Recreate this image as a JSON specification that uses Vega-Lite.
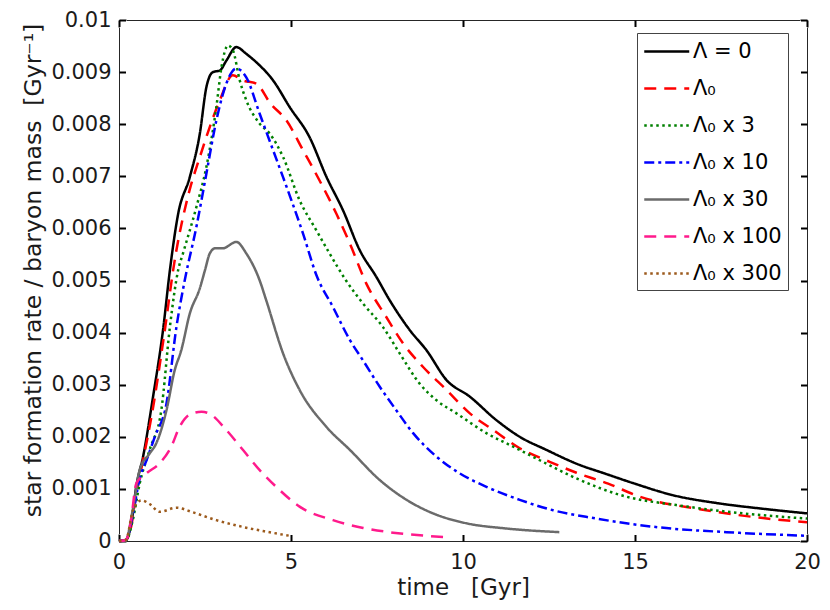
{
  "$schema": "https://vega.github.io/schema/vega-lite/v6.json",
  "description": "Star formation rate per baryon mass against time for several values of the cosmological constant",
  "width": 688,
  "height": 521,
  "autosize": {"type": "none"},
  "padding": {"left": 119, "top": 20, "right": 23, "bottom": 69},
  "background": "white",
  "config": {
    "font": "DejaVu Sans",
    "view": {"stroke": "#262626", "strokeWidth": 1},
    "axis": {"grid": false, "labelFontSize": 21, "titleFontSize": 23, "titleFontWeight": "normal", "labelFlush": false, "labelColor": "#1a1a1a", "titleColor": "#1a1a1a"}
  },
  "data": {"values": [
      {"s": "Λ = 0", "t": 0, "v": 0},
      {"s": "Λ = 0", "t": 0.2, "v": 0.00002},
      {"s": "Λ = 0", "t": 0.36, "v": 0.00035},
      {"s": "Λ = 0", "t": 0.5, "v": 0.00104},
      {"s": "Λ = 0", "t": 0.7, "v": 0.00162},
      {"s": "Λ = 0", "t": 0.99, "v": 0.00277},
      {"s": "Λ = 0", "t": 1.28, "v": 0.00405},
      {"s": "Λ = 0", "t": 1.48, "v": 0.0052},
      {"s": "Λ = 0", "t": 1.72, "v": 0.00628},
      {"s": "Λ = 0", "t": 2.06, "v": 0.00699},
      {"s": "Λ = 0", "t": 2.35, "v": 0.00782},
      {"s": "Λ = 0", "t": 2.54, "v": 0.00871},
      {"s": "Λ = 0", "t": 2.73, "v": 0.009},
      {"s": "Λ = 0", "t": 2.93, "v": 0.00903},
      {"s": "Λ = 0", "t": 3.12, "v": 0.00922},
      {"s": "Λ = 0", "t": 3.41, "v": 0.00948},
      {"s": "Λ = 0", "t": 3.7, "v": 0.00935},
      {"s": "Λ = 0", "t": 3.99, "v": 0.00919},
      {"s": "Λ = 0", "t": 4.48, "v": 0.00884},
      {"s": "Λ = 0", "t": 4.96, "v": 0.00833},
      {"s": "Λ = 0", "t": 5.54, "v": 0.00775},
      {"s": "Λ = 0", "t": 6.03, "v": 0.00699},
      {"s": "Λ = 0", "t": 6.51, "v": 0.00635},
      {"s": "Λ = 0", "t": 7.0, "v": 0.00558},
      {"s": "Λ = 0", "t": 7.48, "v": 0.00507},
      {"s": "Λ = 0", "t": 7.87, "v": 0.00462},
      {"s": "Λ = 0", "t": 8.45, "v": 0.00405},
      {"s": "Λ = 0", "t": 8.94, "v": 0.00366},
      {"s": "Λ = 0", "t": 9.52, "v": 0.00309},
      {"s": "Λ = 0", "t": 10.2, "v": 0.00277},
      {"s": "Λ = 0", "t": 10.97, "v": 0.00232},
      {"s": "Λ = 0", "t": 11.65, "v": 0.002},
      {"s": "Λ = 0", "t": 12.42, "v": 0.00175},
      {"s": "Λ = 0", "t": 13.39, "v": 0.00146},
      {"s": "Λ = 0", "t": 14.1, "v": 0.0013},
      {"s": "Λ = 0", "t": 14.95, "v": 0.00111},
      {"s": "Λ = 0", "t": 16.1, "v": 0.00088},
      {"s": "Λ = 0", "t": 17.46, "v": 0.00072},
      {"s": "Λ = 0", "t": 18.7, "v": 0.00062},
      {"s": "Λ = 0", "t": 20, "v": 0.00053},

      {"s": "Λ₀", "t": 0, "v": 0},
      {"s": "Λ₀", "t": 0.2, "v": 0.00002},
      {"s": "Λ₀", "t": 0.36, "v": 0.0003},
      {"s": "Λ₀", "t": 0.5, "v": 0.0009},
      {"s": "Λ₀", "t": 0.7, "v": 0.00155},
      {"s": "Λ₀", "t": 1.0, "v": 0.0026},
      {"s": "Λ₀", "t": 1.3, "v": 0.0039},
      {"s": "Λ₀", "t": 1.62, "v": 0.00539},
      {"s": "Λ₀", "t": 2.05, "v": 0.00673},
      {"s": "Λ₀", "t": 2.35, "v": 0.00737},
      {"s": "Λ₀", "t": 2.64, "v": 0.00795},
      {"s": "Λ₀", "t": 2.93, "v": 0.00846},
      {"s": "Λ₀", "t": 3.31, "v": 0.00894},
      {"s": "Λ₀", "t": 3.6, "v": 0.00884},
      {"s": "Λ₀", "t": 3.99, "v": 0.00878},
      {"s": "Λ₀", "t": 4.4, "v": 0.0084},
      {"s": "Λ₀", "t": 4.87, "v": 0.00807},
      {"s": "Λ₀", "t": 5.35, "v": 0.0075},
      {"s": "Λ₀", "t": 5.83, "v": 0.00692},
      {"s": "Λ₀", "t": 6.32, "v": 0.00628},
      {"s": "Λ₀", "t": 6.71, "v": 0.00571},
      {"s": "Λ₀", "t": 7.19, "v": 0.00494},
      {"s": "Λ₀", "t": 7.77, "v": 0.0043},
      {"s": "Λ₀", "t": 8.26, "v": 0.00379},
      {"s": "Λ₀", "t": 8.84, "v": 0.00334},
      {"s": "Λ₀", "t": 9.52, "v": 0.0029},
      {"s": "Λ₀", "t": 10.2, "v": 0.00245},
      {"s": "Λ₀", "t": 10.88, "v": 0.00213},
      {"s": "Λ₀", "t": 11.65, "v": 0.00178},
      {"s": "Λ₀", "t": 12.52, "v": 0.00152},
      {"s": "Λ₀", "t": 13.3, "v": 0.00131},
      {"s": "Λ₀", "t": 14.22, "v": 0.0011},
      {"s": "Λ₀", "t": 15.14, "v": 0.00085},
      {"s": "Λ₀", "t": 16.88, "v": 0.00061},
      {"s": "Λ₀", "t": 18.72, "v": 0.00044},
      {"s": "Λ₀", "t": 20, "v": 0.00036},

      {"s": "Λ₀ x 3", "t": 0, "v": 0},
      {"s": "Λ₀ x 3", "t": 0.2, "v": 0.00001},
      {"s": "Λ₀ x 3", "t": 0.4, "v": 0.0004},
      {"s": "Λ₀ x 3", "t": 0.6, "v": 0.0011},
      {"s": "Λ₀ x 3", "t": 0.89, "v": 0.00175},
      {"s": "Λ₀ x 3", "t": 1.23, "v": 0.00251},
      {"s": "Λ₀ x 3", "t": 1.48, "v": 0.00411},
      {"s": "Λ₀ x 3", "t": 1.72, "v": 0.0052},
      {"s": "Λ₀ x 3", "t": 1.86, "v": 0.00552},
      {"s": "Λ₀ x 3", "t": 2.25, "v": 0.00641},
      {"s": "Λ₀ x 3", "t": 2.54, "v": 0.00718},
      {"s": "Λ₀ x 3", "t": 2.83, "v": 0.00833},
      {"s": "Λ₀ x 3", "t": 2.98, "v": 0.0091},
      {"s": "Λ₀ x 3", "t": 3.17, "v": 0.00951},
      {"s": "Λ₀ x 3", "t": 3.31, "v": 0.00942},
      {"s": "Λ₀ x 3", "t": 3.51, "v": 0.00884},
      {"s": "Λ₀ x 3", "t": 3.7, "v": 0.00846},
      {"s": "Λ₀ x 3", "t": 4.09, "v": 0.00801},
      {"s": "Λ₀ x 3", "t": 4.38, "v": 0.00782},
      {"s": "Λ₀ x 3", "t": 4.77, "v": 0.00737},
      {"s": "Λ₀ x 3", "t": 5.25, "v": 0.00654},
      {"s": "Λ₀ x 3", "t": 5.74, "v": 0.00596},
      {"s": "Λ₀ x 3", "t": 6.12, "v": 0.00552},
      {"s": "Λ₀ x 3", "t": 6.6, "v": 0.005},
      {"s": "Λ₀ x 3", "t": 7.09, "v": 0.00456},
      {"s": "Λ₀ x 3", "t": 7.67, "v": 0.00411},
      {"s": "Λ₀ x 3", "t": 8.16, "v": 0.0036},
      {"s": "Λ₀ x 3", "t": 8.74, "v": 0.00302},
      {"s": "Λ₀ x 3", "t": 9.23, "v": 0.0027},
      {"s": "Λ₀ x 3", "t": 9.81, "v": 0.00245},
      {"s": "Λ₀ x 3", "t": 10.68, "v": 0.00207},
      {"s": "Λ₀ x 3", "t": 11.46, "v": 0.00181},
      {"s": "Λ₀ x 3", "t": 12.23, "v": 0.00155},
      {"s": "Λ₀ x 3", "t": 13.3, "v": 0.0012},
      {"s": "Λ₀ x 3", "t": 14.75, "v": 0.00085},
      {"s": "Λ₀ x 3", "t": 16.2, "v": 0.00069},
      {"s": "Λ₀ x 3", "t": 17.85, "v": 0.00055},
      {"s": "Λ₀ x 3", "t": 20, "v": 0.00043},

      {"s": "Λ₀ x 10", "t": 0, "v": 0},
      {"s": "Λ₀ x 10", "t": 0.2, "v": 0.00002},
      {"s": "Λ₀ x 10", "t": 0.4, "v": 0.0005},
      {"s": "Λ₀ x 10", "t": 0.6, "v": 0.0012},
      {"s": "Λ₀ x 10", "t": 0.8, "v": 0.00155},
      {"s": "Λ₀ x 10", "t": 1.04, "v": 0.002},
      {"s": "Λ₀ x 10", "t": 1.38, "v": 0.00264},
      {"s": "Λ₀ x 10", "t": 1.67, "v": 0.00411},
      {"s": "Λ₀ x 10", "t": 1.91, "v": 0.005},
      {"s": "Λ₀ x 10", "t": 2.25, "v": 0.00603},
      {"s": "Λ₀ x 10", "t": 2.54, "v": 0.00705},
      {"s": "Λ₀ x 10", "t": 2.83, "v": 0.00807},
      {"s": "Λ₀ x 10", "t": 3.12, "v": 0.00878},
      {"s": "Λ₀ x 10", "t": 3.41, "v": 0.00907},
      {"s": "Λ₀ x 10", "t": 3.7, "v": 0.0089},
      {"s": "Λ₀ x 10", "t": 4.09, "v": 0.0082},
      {"s": "Λ₀ x 10", "t": 4.48, "v": 0.0075},
      {"s": "Λ₀ x 10", "t": 4.87, "v": 0.0068},
      {"s": "Λ₀ x 10", "t": 5.35, "v": 0.0059},
      {"s": "Λ₀ x 10", "t": 5.74, "v": 0.0051},
      {"s": "Λ₀ x 10", "t": 6.22, "v": 0.00449},
      {"s": "Λ₀ x 10", "t": 6.71, "v": 0.00386},
      {"s": "Λ₀ x 10", "t": 7.09, "v": 0.00347},
      {"s": "Λ₀ x 10", "t": 7.58, "v": 0.00296},
      {"s": "Λ₀ x 10", "t": 8.06, "v": 0.00251},
      {"s": "Λ₀ x 10", "t": 8.55, "v": 0.00207},
      {"s": "Λ₀ x 10", "t": 9.23, "v": 0.00162},
      {"s": "Λ₀ x 10", "t": 9.9, "v": 0.0013},
      {"s": "Λ₀ x 10", "t": 10.68, "v": 0.00104},
      {"s": "Λ₀ x 10", "t": 11.65, "v": 0.00079},
      {"s": "Λ₀ x 10", "t": 12.62, "v": 0.00059},
      {"s": "Λ₀ x 10", "t": 13.79, "v": 0.00044},
      {"s": "Λ₀ x 10", "t": 15.72, "v": 0.00026},
      {"s": "Λ₀ x 10", "t": 17.66, "v": 0.00017},
      {"s": "Λ₀ x 10", "t": 20, "v": 0.0001},

      {"s": "Λ₀ x 30", "t": 0, "v": 0},
      {"s": "Λ₀ x 30", "t": 0.2, "v": 0.00002},
      {"s": "Λ₀ x 30", "t": 0.4, "v": 0.0006},
      {"s": "Λ₀ x 30", "t": 0.6, "v": 0.00136},
      {"s": "Λ₀ x 30", "t": 0.89, "v": 0.00168},
      {"s": "Λ₀ x 30", "t": 1.08, "v": 0.00187},
      {"s": "Λ₀ x 30", "t": 1.38, "v": 0.00251},
      {"s": "Λ₀ x 30", "t": 1.62, "v": 0.00328},
      {"s": "Λ₀ x 30", "t": 1.81, "v": 0.00366},
      {"s": "Λ₀ x 30", "t": 2.06, "v": 0.00437},
      {"s": "Λ₀ x 30", "t": 2.35, "v": 0.00485},
      {"s": "Λ₀ x 30", "t": 2.5, "v": 0.0052},
      {"s": "Λ₀ x 30", "t": 2.64, "v": 0.00552},
      {"s": "Λ₀ x 30", "t": 2.8, "v": 0.00562},
      {"s": "Λ₀ x 30", "t": 3.02, "v": 0.00562},
      {"s": "Λ₀ x 30", "t": 3.41, "v": 0.00574},
      {"s": "Λ₀ x 30", "t": 3.7, "v": 0.00552},
      {"s": "Λ₀ x 30", "t": 4.09, "v": 0.005},
      {"s": "Λ₀ x 30", "t": 4.28, "v": 0.00462},
      {"s": "Λ₀ x 30", "t": 4.77, "v": 0.0036},
      {"s": "Λ₀ x 30", "t": 5.25, "v": 0.0029},
      {"s": "Λ₀ x 30", "t": 6.03, "v": 0.00219},
      {"s": "Λ₀ x 30", "t": 6.71, "v": 0.00175},
      {"s": "Λ₀ x 30", "t": 7.58, "v": 0.00117},
      {"s": "Λ₀ x 30", "t": 8.36, "v": 0.00079},
      {"s": "Λ₀ x 30", "t": 9.13, "v": 0.00053},
      {"s": "Λ₀ x 30", "t": 10.1, "v": 0.00034},
      {"s": "Λ₀ x 30", "t": 11.26, "v": 0.00024},
      {"s": "Λ₀ x 30", "t": 12.8, "v": 0.00017},

      {"s": "Λ₀ x 100", "t": 0, "v": 0},
      {"s": "Λ₀ x 100", "t": 0.2, "v": 0.00002},
      {"s": "Λ₀ x 100", "t": 0.35, "v": 0.0004},
      {"s": "Λ₀ x 100", "t": 0.5, "v": 0.0011},
      {"s": "Λ₀ x 100", "t": 0.8, "v": 0.0013},
      {"s": "Λ₀ x 100", "t": 1.18, "v": 0.00149},
      {"s": "Λ₀ x 100", "t": 1.52, "v": 0.00181},
      {"s": "Λ₀ x 100", "t": 1.76, "v": 0.00219},
      {"s": "Λ₀ x 100", "t": 2.06, "v": 0.00243},
      {"s": "Λ₀ x 100", "t": 2.4, "v": 0.00248},
      {"s": "Λ₀ x 100", "t": 2.64, "v": 0.00244},
      {"s": "Λ₀ x 100", "t": 3.12, "v": 0.00213},
      {"s": "Λ₀ x 100", "t": 3.6, "v": 0.00175},
      {"s": "Λ₀ x 100", "t": 4.09, "v": 0.00136},
      {"s": "Λ₀ x 100", "t": 4.57, "v": 0.00104},
      {"s": "Λ₀ x 100", "t": 5.25, "v": 0.00066},
      {"s": "Λ₀ x 100", "t": 6.22, "v": 0.0004},
      {"s": "Λ₀ x 100", "t": 7.1, "v": 0.00025},
      {"s": "Λ₀ x 100", "t": 7.97, "v": 0.00016},
      {"s": "Λ₀ x 100", "t": 8.94, "v": 0.0001},
      {"s": "Λ₀ x 100", "t": 9.62, "v": 0.00007},

      {"s": "Λ₀ x 300", "t": 0, "v": 0},
      {"s": "Λ₀ x 300", "t": 0.2, "v": 0.00002},
      {"s": "Λ₀ x 300", "t": 0.41, "v": 0.0006},
      {"s": "Λ₀ x 300", "t": 0.65, "v": 0.00078},
      {"s": "Λ₀ x 300", "t": 0.89, "v": 0.00071},
      {"s": "Λ₀ x 300", "t": 1.18, "v": 0.00056},
      {"s": "Λ₀ x 300", "t": 1.67, "v": 0.00064},
      {"s": "Λ₀ x 300", "t": 2.15, "v": 0.00055},
      {"s": "Λ₀ x 300", "t": 2.83, "v": 0.0004},
      {"s": "Λ₀ x 300", "t": 3.6, "v": 0.00027},
      {"s": "Λ₀ x 300", "t": 4.28, "v": 0.00018},
      {"s": "Λ₀ x 300", "t": 4.96, "v": 0.0001}
  ]},
  "layer": [
    {
      "mark": {"type": "line", "strokeWidth": 2.5, "interpolate": "monotone"},
      "encoding": {
        "x": {
          "field": "t",
          "type": "quantitative",
          "scale": {"domain": [0, 20], "nice": false},
          "axis": {
            "orient": "bottom",
            "offset": -7,
            "tickSize": 7,
            "tickColor": "#000000",
            "tickWidth": 2,
            "domainColor": "white",
            "values": [0, 5, 10, 15, 20],
            "title": "time\u00a0\u00a0\u00a0[Gyr]",
            "labelPadding": 10,
            "titlePadding": 4
          }
        },
        "y": {
          "field": "v",
          "type": "quantitative",
          "scale": {"domain": [0, 0.01], "nice": false},
          "axis": {
            "orient": "left",
            "offset": -7,
            "tickSize": 7,
            "tickColor": "#000000",
            "tickWidth": 2,
            "domainColor": "white",
            "values": [0, 0.001, 0.002, 0.003, 0.004, 0.005, 0.006, 0.007, 0.008, 0.009, 0.01],
            "labelExpr": "format(datum.value, '.3~f')",
            "title": "star formation rate / baryon mass\u00a0\u00a0[Gyr⁻¹]",
            "titleFontSize": 23.5,
            "titleY": 250,
            "labelPadding": 8,
            "titlePadding": 5
          }
        },
        "color": {
          "field": "s",
          "type": "nominal",
          "scale": {
            "domain": ["Λ = 0", "Λ₀", "Λ₀ x 3", "Λ₀ x 10", "Λ₀ x 30", "Λ₀ x 100", "Λ₀ x 300"],
            "range": ["#000000", "#ff0000", "#008000", "#0000ff", "#6b6b6b", "#ff1a8c", "#9c5a1c"]
          },
          "legend": {
            "title": null, "orient": "none", "legendX": 518, "legendY": 13,
            "symbolType": "M-1,0H3", "symbolSize": 506, "symbolStrokeWidth": 2.5,
            "labelFontSize": 21, "labelColor": "#000000", "labelOffset": 25, "rowPadding": 14, "padding": 6,
            "strokeColor": "#444444", "fillColor": "white"
          }
        },
        "strokeDash": {
          "field": "s",
          "type": "nominal",
          "scale": {
            "domain": ["Λ = 0", "Λ₀", "Λ₀ x 3", "Λ₀ x 10", "Λ₀ x 30", "Λ₀ x 100", "Λ₀ x 300"],
            "range": [[1, 0], [12, 8], [2.5, 3.5], [10, 4, 3, 4], [1, 0], [12, 8], [2.5, 3.5]]
          },
          "legend": {
            "title": null, "orient": "none", "legendX": 518, "legendY": 13,
            "symbolType": "M-1,0H3", "symbolSize": 506, "symbolStrokeWidth": 2.5,
            "labelFontSize": 21, "labelColor": "#000000", "labelOffset": 25, "rowPadding": 14, "padding": 6,
            "strokeColor": "#444444", "fillColor": "white"
          }
        }
      }
    },
    {
      "mark": {"type": "point", "opacity": 0},
      "encoding": {
        "x": {
          "field": "t",
          "type": "quantitative",
          "axis": {"orient": "top", "offset": -7, "tickSize": 7, "tickColor": "#000000", "tickWidth": 2, "domainColor": "white", "values": [0, 5, 10, 15, 20], "labels": false, "title": null}
        },
        "y": {
          "field": "v",
          "type": "quantitative",
          "axis": {"orient": "right", "offset": -7, "tickSize": 7, "tickColor": "#000000", "tickWidth": 2, "domainColor": "white", "values": [0, 0.001, 0.002, 0.003, 0.004, 0.005, 0.006, 0.007, 0.008, 0.009, 0.01], "labels": false, "title": null}
        }
      }
    }
  ],
  "resolve": {"axis": {"x": "independent", "y": "independent"}}
}
